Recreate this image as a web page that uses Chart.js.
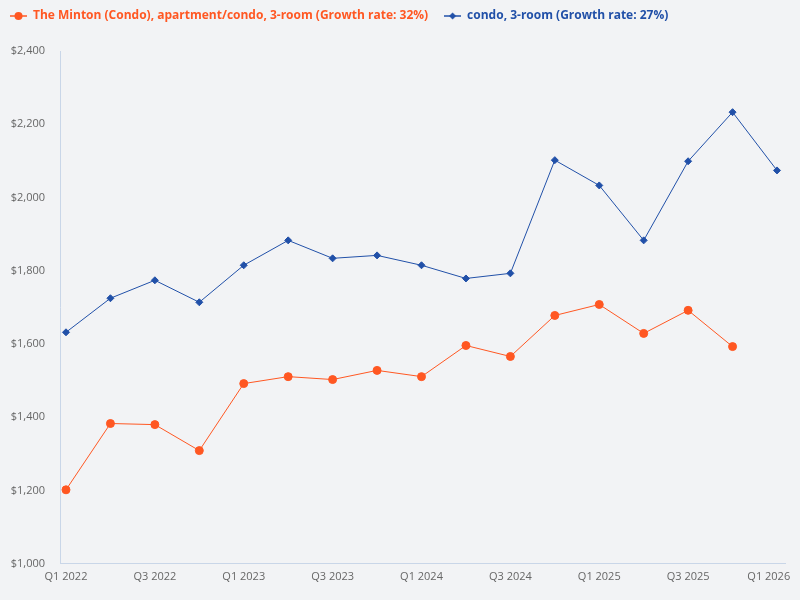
<!DOCTYPE html>
<html>
<head>
<meta charset="utf-8">
<script src="https://cdn.jsdelivr.net/npm/chart.js@4.4.0/dist/chart.umd.min.js"></script>
<style>
  html, body { margin: 0; padding: 0; background: #f2f3f5; }
  #wrap { width: 800px; height: 600px; }
</style>
</head>
<body>
<div id="wrap"><canvas id="price-chart"></canvas></div>
<script>
var quarters = ['Q1 2022', 'Q2 2022', 'Q3 2022', 'Q4 2022', 'Q1 2023', 'Q2 2023', 'Q3 2023', 'Q4 2023',
                'Q1 2024', 'Q2 2024', 'Q3 2024', 'Q4 2024', 'Q1 2025', 'Q2 2025', 'Q3 2025', 'Q4 2025', 'Q1 2026'];
var mintonName = 'The Minton (Condo), apartment/condo, 3-room (Growth rate: 32%)';
var mintonValues = [1202, 1383, 1380, 1309, 1492, 1511, 1503, 1528, 1511, 1596, 1566, 1678, 1708, 1629, 1692, 1593];
var condoName = 'condo, 3-room (Growth rate: 27%)';
var condoValues = [1632, 1725, 1774, 1714, 1815, 1883, 1834, 1842, 1815, 1779, 1793, 2102, 2033, 1883, 2099, 2233, 2074];
var yTicks = [1000, 1200, 1400, 1600, 1800, 2000, 2200, 2400];

var orange = '#ff5722';
var blue = '#2150a8';

function toPoints(values) {
  return values.map(function(v, i) { return { x: i, y: v }; });
}

// little legend icon: a short line with the marker on it
function legendIcon(color, diamond) {
  var c = document.createElement('canvas');
  c.width = 17; c.height = 10;
  var g = c.getContext('2d');
  g.strokeStyle = color; g.fillStyle = color; g.lineWidth = 1.5;
  g.beginPath(); g.moveTo(0, 5); g.lineTo(17, 5); g.stroke();
  g.beginPath();
  if (diamond) {
    g.moveTo(8.5, 1.5); g.lineTo(12, 5); g.lineTo(8.5, 8.5); g.lineTo(5, 5);
  } else {
    g.arc(8.5, 5, 4, 0, Math.PI * 2);
  }
  g.fill();
  return c;
}

// push the plot area down below the legend
var legendGap = {
  id: 'legendGap',
  beforeInit: function(chart) {
    var fit = chart.legend.fit;
    chart.legend.fit = function() {
      fit.bind(chart.legend)();
      this.height += 19;
    };
  }
};

var ctx = document.getElementById('price-chart').getContext('2d');
var chart = new Chart(ctx, {
  type: 'line',
  data: {
    datasets: [
      { label: mintonName, data: toPoints(mintonValues), borderColor: orange, backgroundColor: orange,
        borderWidth: 1, pointRadius: 4, pointHoverRadius: 4, pointStyle: 'circle', tension: 0 },
      { label: condoName, data: toPoints(condoValues), borderColor: blue, backgroundColor: blue,
        borderWidth: 1, pointRadius: 3.5, pointHoverRadius: 3.5, pointStyle: 'rectRot', tension: 0 }
    ]
  },
  plugins: [legendGap],
  options: {
    responsive: true,
    maintainAspectRatio: false,
    animation: false,
    layout: { padding: { left: 0, right: 15, top: 0, bottom: 11 } },
    plugins: {
      tooltip: { enabled: false },
      legend: {
        display: true,
        position: 'top',
        align: 'start',
        labels: {
          usePointStyle: true,
          pointStyleWidth: 17,
          boxHeight: 10,
          padding: 10,
          font: { family: 'Open Sans', size: 12, weight: 'bold' },
          generateLabels: function(chart) {
            return chart.data.datasets.map(function(ds, i) {
              return {
                text: ds.label + '\u2002',
                fontColor: ds.borderColor,
                pointStyle: legendIcon(ds.borderColor, i === 1),
                fillStyle: ds.borderColor,
                strokeStyle: ds.borderColor,
                lineWidth: 0,
                datasetIndex: i,
                hidden: false
              };
            });
          }
        }
      }
    },
    scales: {
      x: {
        type: 'linear',
        min: -0.135,
        max: 16.18,
        afterBuildTicks: function(axis) {
          axis.ticks = quarters.map(function(q, i) { return { value: i }; }).filter(function(t) { return t.value % 2 === 0; });
        },
        afterFit: function(axis) { axis.paddingRight = 0; },
        grid: { display: false, drawTicks: false },
        border: { display: true, color: '#c9d6e8', width: 1 },
        ticks: {
          color: '#666',
          font: { family: 'Open Sans', size: 11 },
          padding: 6,
          maxRotation: 0,
          autoSkip: false,
          callback: function(v) {
            // last label is nudged left so it stays inside the canvas
            return v === quarters.length - 1 ? quarters[v] + '\u2002\u2002\u2002' : quarters[v];
          }
        }
      },
      y: {
        min: 1000,
        max: 2400,
        afterBuildTicks: function(axis) {
          axis.ticks = yTicks.map(function(v) { return { value: v }; });
        },
        afterFit: function(axis) { axis.width = 60; },
        grid: { display: false, drawTicks: false },
        border: { display: true, color: '#c9d6e8', width: 1 },
        ticks: {
          color: '#666',
          font: { family: 'Open Sans', size: 11 },
          padding: 15,
          callback: function(v) { return '$' + v.toLocaleString('en-US'); }
        }
      }
    }
  }
});
</script>
</body>
</html>
